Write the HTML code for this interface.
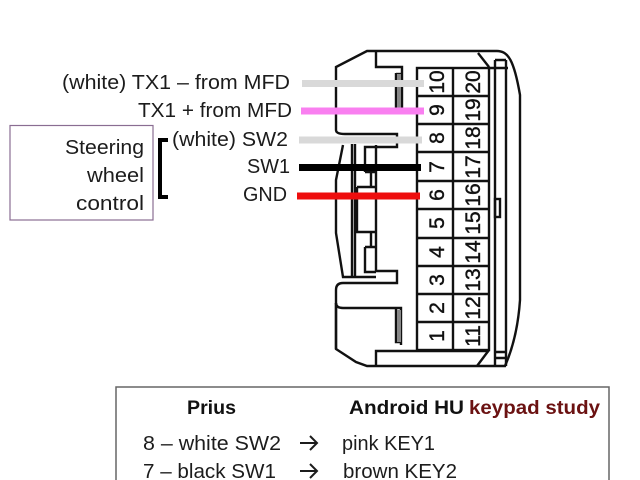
<!DOCTYPE html>
<html>
<head>
<meta charset="utf-8">
<style>
html,body{margin:0;padding:0;background:#fff;width:640px;height:480px;overflow:hidden}
svg{display:block;filter:blur(.3px)}
text{font-family:"Liberation Sans",sans-serif;fill:#1c1c1c}
.n{font-size:21px;text-anchor:middle;fill:#111;stroke:#111;stroke-width:.4px}
.l{font-size:20px}
</style>
</head>
<body>
<svg width="640" height="480" viewBox="0 0 640 480" xmlns="http://www.w3.org/2000/svg">
<rect width="640" height="480" fill="#fff"/>
<g fill="none" stroke="#111" stroke-width="2.400">
  <!-- outer housing -->
  <path d="M336,130V67L367,51H497C508,51 514,60 520,95V300C518,330 512,350 505,366H367L356,362L336,349V290Q336,283 343,283H397V271H376"/>
  <!-- upper inner -->
  <path d="M376,51V67H402V111M396,73V111"/>
  <path d="M336,130Q336,134 345,134H397V147H365V172"/>
  <path d="M396,74H402"/>
  <path d="M376,145V272M365,172H376M371,172V187"/>
  <path d="M357,187V232H376M357,187H376"/>
  <path d="M365,247V272H376M365,247H376M371,232V247"/>
  <path d="M343,145L336,180V233L343,277H376"/>
  <path d="M352,144V277M355,144V277"/>
  <!-- lower inner -->
  <path d="M336,303Q336,308 343,308H401V345M396,309V342H401"/>
  <path d="M336,303V349M376,366V351H489"/>
  <!-- connector grid -->
  <rect x="417" y="68" width="72" height="282"/>
  <path d="M453,68V350M417,96H489M417,124H489M417,152H489M417,181H489M417,209H489M417,238H489M417,266H489M417,294H489M417,322H489"/>
  <!-- right side details -->
  <path d="M478,53L489,67M489,68H508M495,60H506M495,60V366M506,60V366M477,366L489,350M495,352H506M495,358H506"/>
  <rect x="495" y="199" width="5" height="18"/>
</g>
<g fill="#888"><rect x="397" y="74" width="4" height="37"/><rect x="397" y="310" width="4" height="32"/></g>

<!-- numbers -->
<g class="nums">
<text class="n" transform="translate(444,82) rotate(-90)">10</text>
<text class="n" transform="translate(444,110) rotate(-90)">9</text>
<text class="n" transform="translate(444,138) rotate(-90)">8</text>
<text class="n" transform="translate(444,167) rotate(-90)">7</text>
<text class="n" transform="translate(444,195) rotate(-90)">6</text>
<text class="n" transform="translate(444,223) rotate(-90)">5</text>
<text class="n" transform="translate(444,252) rotate(-90)">4</text>
<text class="n" transform="translate(444,280) rotate(-90)">3</text>
<text class="n" transform="translate(444,308) rotate(-90)">2</text>
<text class="n" transform="translate(444,336) rotate(-90)">1</text>
<text class="n" transform="translate(480,82) rotate(-90)">20</text>
<text class="n" transform="translate(480,110) rotate(-90)">19</text>
<text class="n" transform="translate(480,138) rotate(-90)">18</text>
<text class="n" transform="translate(480,167) rotate(-90)">17</text>
<text class="n" transform="translate(480,195) rotate(-90)">16</text>
<text class="n" transform="translate(480,223) rotate(-90)">15</text>
<text class="n" transform="translate(480,252) rotate(-90)">14</text>
<text class="n" transform="translate(480,280) rotate(-90)">13</text>
<text class="n" transform="translate(480,308) rotate(-90)">12</text>
<text class="n" transform="translate(480,336) rotate(-90)">11</text>
</g>

<!-- wires -->
<rect x="302" y="80" width="122" height="7" fill="#d9d9d9"/>
<rect x="301" y="107.500" width="123" height="7" fill="#f97ff0"/>
<rect x="299" y="136.500" width="123" height="7" fill="#d9d9d9"/>
<rect x="299" y="164" width="122" height="7" fill="#000"/>
<rect x="297" y="192.500" width="123" height="7" fill="#ee0d0d"/>

<!-- labels -->
<text class="l" x="62" y="89" textLength="228" lengthAdjust="spacingAndGlyphs">(white) TX1 – from MFD</text>
<text class="l" x="138" y="117" textLength="154" lengthAdjust="spacingAndGlyphs">TX1 + from MFD</text>
<text class="l" x="172" y="146" textLength="116" lengthAdjust="spacingAndGlyphs">(white) SW2</text>
<text class="l" x="247" y="173" textLength="43" lengthAdjust="spacingAndGlyphs">SW1</text>
<text class="l" x="243" y="201" textLength="44" lengthAdjust="spacingAndGlyphs">GND</text>

<!-- steering box -->
<rect x="10" y="125.500" width="143" height="94.500" fill="none" stroke="#8a6d92" stroke-width="1.200"/>
<text class="l" x="65" y="154" textLength="79" lengthAdjust="spacingAndGlyphs">Steering</text>
<text class="l" x="87" y="182" textLength="57" lengthAdjust="spacingAndGlyphs">wheel</text>
<text class="l" x="76" y="210" textLength="68" lengthAdjust="spacingAndGlyphs">control</text>
<path d="M168,140H160V197H168" fill="none" stroke="#000" stroke-width="4"/>

<!-- table -->
<path d="M116,481V387H609V481" fill="none" stroke="#666" stroke-width="1.500"/>
<text x="187" y="414" font-size="19" font-weight="bold" textLength="49" lengthAdjust="spacingAndGlyphs" style="fill:#111">Prius</text>
<text x="349" y="414" font-size="19" font-weight="bold" textLength="115" lengthAdjust="spacingAndGlyphs" style="fill:#111">Android HU</text>
<text x="469" y="414" font-size="19" font-weight="bold" textLength="131" lengthAdjust="spacingAndGlyphs" style="fill:#6b1212">keypad study</text>
<text class="l" x="143" y="450" textLength="138" lengthAdjust="spacingAndGlyphs">8 – white SW2</text>
<text class="l" x="342" y="450" textLength="93" lengthAdjust="spacingAndGlyphs">pink KEY1</text>
<text class="l" x="143" y="478" textLength="133" lengthAdjust="spacingAndGlyphs">7 – black SW1</text>
<text class="l" x="343" y="478" textLength="114" lengthAdjust="spacingAndGlyphs">brown KEY2</text>
<path d="M300,443H316M310,436L317,443L310,450M300,471H316M310,464L317,471L310,478" fill="none" stroke="#1c1c1c" stroke-width="2"/>
</svg>
</body>
</html>
